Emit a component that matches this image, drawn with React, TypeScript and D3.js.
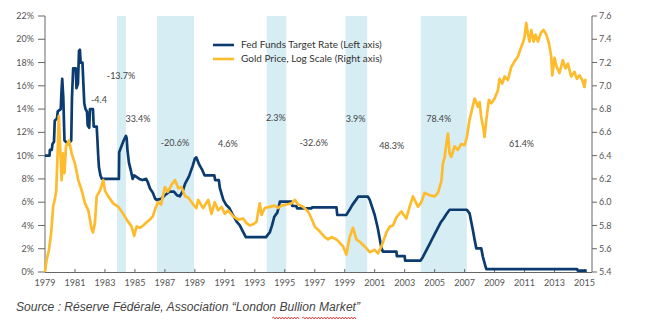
import React from "react";
import * as d3 from "d3";

// ---- Data ----
const fedYears = [1979.0,1979.3,1979.33,1979.45,1979.5,1979.6,1979.65,1979.8,1979.85,1980.05,1980.1,1980.15,1980.22,1980.3,1980.55,1980.75,1980.8,1980.88,1981.05,1981.1,1981.2,1981.27,1981.33,1981.38,1981.5,1981.55,1981.62,1981.7,1981.8,1981.85,1981.95,1982.0,1982.2,1982.25,1982.45,1982.5,1982.55,1982.6,1982.7,1982.8,1983.93,1983.95,1984.1,1984.25,1984.4,1984.45,1984.5,1984.6,1984.75,1984.85,1984.95,1985.3,1985.5,1985.75,1985.85,1986.0,1986.2,1986.35,1986.45,1986.75,1987.0,1987.3,1987.6,1987.8,1988.0,1988.2,1988.35,1988.6,1988.85,1989.0,1989.1,1989.3,1989.5,1989.65,1990.3,1990.35,1990.6,1990.67,1990.9,1991.1,1991.3,1991.5,1991.8,1992.0,1992.2,1992.4,1993.75,1993.9,1994.0,1994.15,1994.3,1994.5,1994.6,1994.67,1995.45,1995.5,1995.78,1995.82,1996.78,1996.82,1998.45,1998.5,1999.1,1999.3,1999.5,1999.75,1999.9,2000.55,2000.67,2000.9,2001.0,2001.2,2001.33,2001.45,2001.55,2002.45,2002.48,2003.0,2003.03,2004.05,2004.2,2004.4,2004.6,2004.8,2005.0,2005.2,2005.4,2005.6,2005.8,2006.0,2007.15,2007.33,2007.55,2007.67,2007.78,2008.11,2008.22,2008.4,2008.45,2014.5,2014.55,2015.15];
const fedRates = [10.0,10.0,10.5,10.5,11.0,11.2,13.0,13.2,13.8,14.0,15.5,16.6,15.0,11.3,11.0,11.3,15.0,17.5,17.5,15.8,16.2,19.0,19.1,18.0,18.0,16.5,14.5,14.0,13.8,12.6,12.4,14.0,14.0,12.5,12.5,11.3,10.0,9.0,8.3,8.0,8.0,10.3,10.8,11.3,11.7,11.5,10.5,9.4,8.6,8.0,8.3,8.0,7.9,8.0,7.75,7.2,6.8,6.3,6.2,6.3,6.6,6.9,6.9,6.6,6.5,7.0,7.6,8.2,9.1,9.75,9.85,9.2,8.75,8.3,8.3,7.9,7.9,7.2,6.2,5.75,5.5,5.0,4.3,4.0,3.5,3.0,3.0,3.25,3.4,4.0,4.75,5.1,5.6,6.04,6.04,5.67,5.67,5.47,5.47,5.56,5.56,4.9,4.9,5.3,5.75,6.2,6.47,6.47,6.2,5.3,4.9,3.8,2.9,2.06,1.75,1.75,1.37,1.37,0.97,0.97,1.25,1.75,2.25,2.75,3.25,3.75,4.25,4.6,5.0,5.35,5.35,5.04,3.6,2.75,2.03,2.03,1.3,0.45,0.25,0.25,0.12,0.12];

const goldYears = [1979.0,1979.1,1979.25,1979.4,1979.55,1979.65,1979.75,1979.85,1979.92,1980.05,1980.11,1980.2,1980.3,1980.4,1980.6,1980.78,1981.0,1981.22,1981.45,1981.67,1981.89,1982.11,1982.2,1982.33,1982.45,1982.67,1982.89,1983.0,1983.22,1983.55,1983.89,1984.22,1984.45,1984.78,1984.95,1985.11,1985.35,1985.55,1985.8,1986.0,1986.2,1986.4,1986.55,1986.75,1987.0,1987.2,1987.45,1987.67,1987.9,1988.1,1988.35,1988.55,1988.9,1989.1,1989.22,1989.55,1989.89,1990.11,1990.33,1990.55,1990.78,1991.0,1991.22,1991.55,1991.89,1992.22,1992.45,1992.67,1992.89,1993.11,1993.33,1993.45,1993.67,1994.0,1994.33,1994.55,1994.78,1995.11,1995.45,1995.67,1995.89,1996.22,1996.55,1996.78,1997.0,1997.33,1997.67,1997.89,1998.11,1998.45,1998.67,1998.89,1999.11,1999.33,1999.55,1999.78,2000.0,2000.33,2000.67,2001.0,2001.22,2001.45,2001.78,2002.0,2002.22,2002.45,2002.78,2003.11,2003.33,2003.55,2003.89,2004.11,2004.33,2004.67,2005.0,2005.22,2005.45,2005.55,2005.67,2005.78,2005.89,2006.0,2006.11,2006.33,2006.55,2006.78,2007.0,2007.15,2007.33,2007.67,2007.89,2008.0,2008.11,2008.27,2008.33,2008.45,2008.62,2008.78,2009.0,2009.22,2009.33,2009.51,2009.67,2009.89,2010.11,2010.33,2010.55,2010.71,2010.89,2011.0,2011.11,2011.22,2011.33,2011.45,2011.6,2011.73,2011.89,2012.11,2012.27,2012.45,2012.62,2012.78,2012.85,2013.0,2013.15,2013.33,2013.55,2013.73,2013.89,2014.11,2014.33,2014.49,2014.67,2014.85,2015.0,2015.07];
const goldLog = [5.40,5.50,5.58,5.72,5.97,6.02,6.10,6.45,6.74,6.36,6.19,6.42,6.25,6.48,6.53,6.42,6.33,6.19,6.10,5.99,5.93,5.77,5.74,5.82,6.05,6.10,6.19,6.10,6.05,5.99,5.96,5.90,5.85,5.79,5.71,5.79,5.78,5.80,5.83,5.85,5.88,5.96,6.00,5.98,6.13,6.09,6.15,6.19,6.12,6.13,6.05,6.04,5.98,5.95,6.02,5.95,6.02,5.90,6.00,5.93,5.96,5.90,5.93,5.88,5.85,5.86,5.82,5.80,5.81,5.83,5.99,5.89,5.95,5.96,5.97,5.95,5.97,5.98,5.99,6.02,5.98,5.96,5.92,5.86,5.79,5.75,5.70,5.68,5.70,5.68,5.65,5.62,5.55,5.70,5.78,5.68,5.66,5.62,5.57,5.59,5.56,5.62,5.74,5.79,5.80,5.87,5.92,5.86,5.96,6.05,5.96,6.00,6.08,6.06,6.05,6.08,6.18,6.33,6.39,6.50,6.59,6.42,6.39,6.48,6.45,6.50,6.49,6.56,6.71,6.89,6.82,6.86,6.73,6.62,6.56,6.71,6.88,6.85,6.89,6.96,7.06,7.02,7.08,7.05,7.16,7.21,7.25,7.31,7.37,7.42,7.54,7.45,7.38,7.48,7.38,7.44,7.38,7.46,7.48,7.44,7.37,7.25,7.09,7.24,7.16,7.11,7.22,7.15,7.19,7.08,7.12,7.06,7.09,7.05,6.99,7.06];

const bandStarts = [1983.8, 1986.47, 1993.8, 1999.05, 2004.07];
const bandEnds = [1984.4, 1988.95, 1995.1, 2000.5, 2007.15];

const annoLabels = ["-13.7%", "-4.4", "33.4%", "-20.6%", "4.6%", "2.3%", "-32.6%", "3.9%", "48.3%", "78.4%", "61.4%"];
const annoYears = [1984.07, 1982.6, 1985.2, 1987.67, 1991.2, 1994.4, 1996.93, 1999.73, 2002.13, 2005.27, 2010.8];
const annoLevels = [16.84, 14.78, 13.15, 11.09, 11.0, 13.23, 11.09, 13.15, 10.83, 13.15, 11.0];

const leftTicks = [0, 2, 4, 6, 8, 10, 12, 14, 16, 18, 20, 22];
const rightTicks = [5.4, 5.6, 5.8, 6.0, 6.2, 6.4, 6.6, 6.8, 7.0, 7.2, 7.4, 7.6];
const xTicks = [1979, 1981, 1983, 1985, 1987, 1989, 1991, 1993, 1995, 1997, 1999, 2001, 2003, 2005, 2007, 2009, 2011, 2013, 2015];

const legendLabels = ["Fed Funds Target Rate (Left axis)", "Gold Price, Log Scale (Right axis)"];
const sourceText = "Source : Réserve Fédérale, Association “London Bullion Market”";

const NAVY = "#0b3b6f";
const GOLD = "#fdbb2d";
const BAND = "#d7edf4";
const AXIS = "#666";
const TXT = "#555";
const FONT = "Lato, 'Open Sans', sans-serif";

export default function App() {
  const W = 645, H = 321;
  const x = d3.scaleLinear().domain([1979, 2015.5]).range([45, 592]);
  const yL = d3.scaleLinear().domain([0, 22]).range([272, 16]);
  const yR = d3.scaleLinear().domain([5.4, 7.6]).range([272, 16]);

  const fedPts = fedYears.map((t, i) => [t, fedRates[i]] as [number, number]);
  const goldPts = goldYears.map((t, i) => [t, goldLog[i]] as [number, number]);
  const fedLine = d3.line<[number, number]>().x(d => x(d[0])).y(d => yL(d[1]));
  const goldLine = d3.line<[number, number]>().x(d => x(d[0])).y(d => yR(d[1]));

  const wavy = (x0: number, x1: number, y: number) => {
    let s = `M${x0},${y}`;
    let up = true;
    for (let xx = x0 + 1.5; xx <= x1; xx += 1.5) {
      s += ` L${xx},${up ? y - 1 : y + 1}`;
      up = !up;
    }
    return s;
  };

  return (
    <svg width={W} height={H} style={{ position: "absolute", left: 0, top: 0, background: "#fff" }} fontFamily={FONT}>
      {bandStarts.map((s, i) => (
        <rect key={"b" + i} x={x(s)} y={16} width={x(bandEnds[i]) - x(s)} height={272 - 16} fill={BAND} />
      ))}

      {/* left axis */}
      <line x1={45} x2={45} y1={16} y2={272} stroke={AXIS} strokeWidth={1} />
      {leftTicks.map(v => (
        <g key={"l" + v}>
          <line x1={38} x2={45} y1={yL(v)} y2={yL(v)} stroke={AXIS} />
          <text x={34} y={yL(v)} dy="0.34em" textAnchor="end" fontSize={9} fill={TXT}>{v + "%"}</text>
        </g>
      ))}
      {/* right axis */}
      <line x1={592} x2={592} y1={16} y2={272} stroke={AXIS} strokeWidth={1} />
      {rightTicks.map(v => (
        <g key={"r" + v}>
          <line x1={592} x2={597} y1={yR(v)} y2={yR(v)} stroke={AXIS} />
          <text x={599} y={yR(v)} dy="0.34em" textAnchor="start" fontSize={9} fill={TXT}>{v.toFixed(1)}</text>
        </g>
      ))}
      {/* bottom axis */}
      <line x1={45} x2={592} y1={272.5} y2={272.5} stroke={AXIS} strokeWidth={1} />
      {xTicks.map(t => (
        <g key={"x" + t}>
          <line x1={x(t)} x2={x(t)} y1={269} y2={272} stroke={AXIS} />
          <text x={x(t)} y={283} dy="0.34em" textAnchor="middle" fontSize={9} fill={TXT}>{t}</text>
        </g>
      ))}

      <path d={fedLine(fedPts) || ""} fill="none" stroke={NAVY} strokeWidth={2.7} strokeLinejoin="round" />
      <path d={goldLine(goldPts) || ""} fill="none" stroke={GOLD} strokeWidth={2.7} strokeLinejoin="round" />

      {annoLabels.map((lab, i) => (
        <text key={"a" + i} x={x(annoYears[i])} y={yL(annoLevels[i])} dy="0.34em" textAnchor="middle" fontSize={9} fill="#444">{lab}</text>
      ))}

      {/* legend */}
      <line x1={213} x2={234} y1={45} y2={45} stroke={NAVY} strokeWidth={2.6} />
      <line x1={213} x2={234} y1={59} y2={59} stroke={GOLD} strokeWidth={2.6} />
      <text x={241} y={45} dy="0.34em" fontSize={10} fill="#333">{legendLabels[0]}</text>
      <text x={241} y={59} dy="0.34em" fontSize={10} fill="#333">{legendLabels[1]}</text>

      {/* source */}
      <text x={16} y={311} fontSize={12} fontStyle="italic" fill="#444" fontFamily="'Liberation Sans', Arial, sans-serif" textLength={344} lengthAdjust="spacingAndGlyphs">{sourceText}</text>
      <path d={wavy(272, 299, 318)} fill="none" stroke="#d22" strokeWidth={0.8} />
      <path d={wavy(302, 356, 318)} fill="none" stroke="#d22" strokeWidth={0.8} />
    </svg>
  );
}
